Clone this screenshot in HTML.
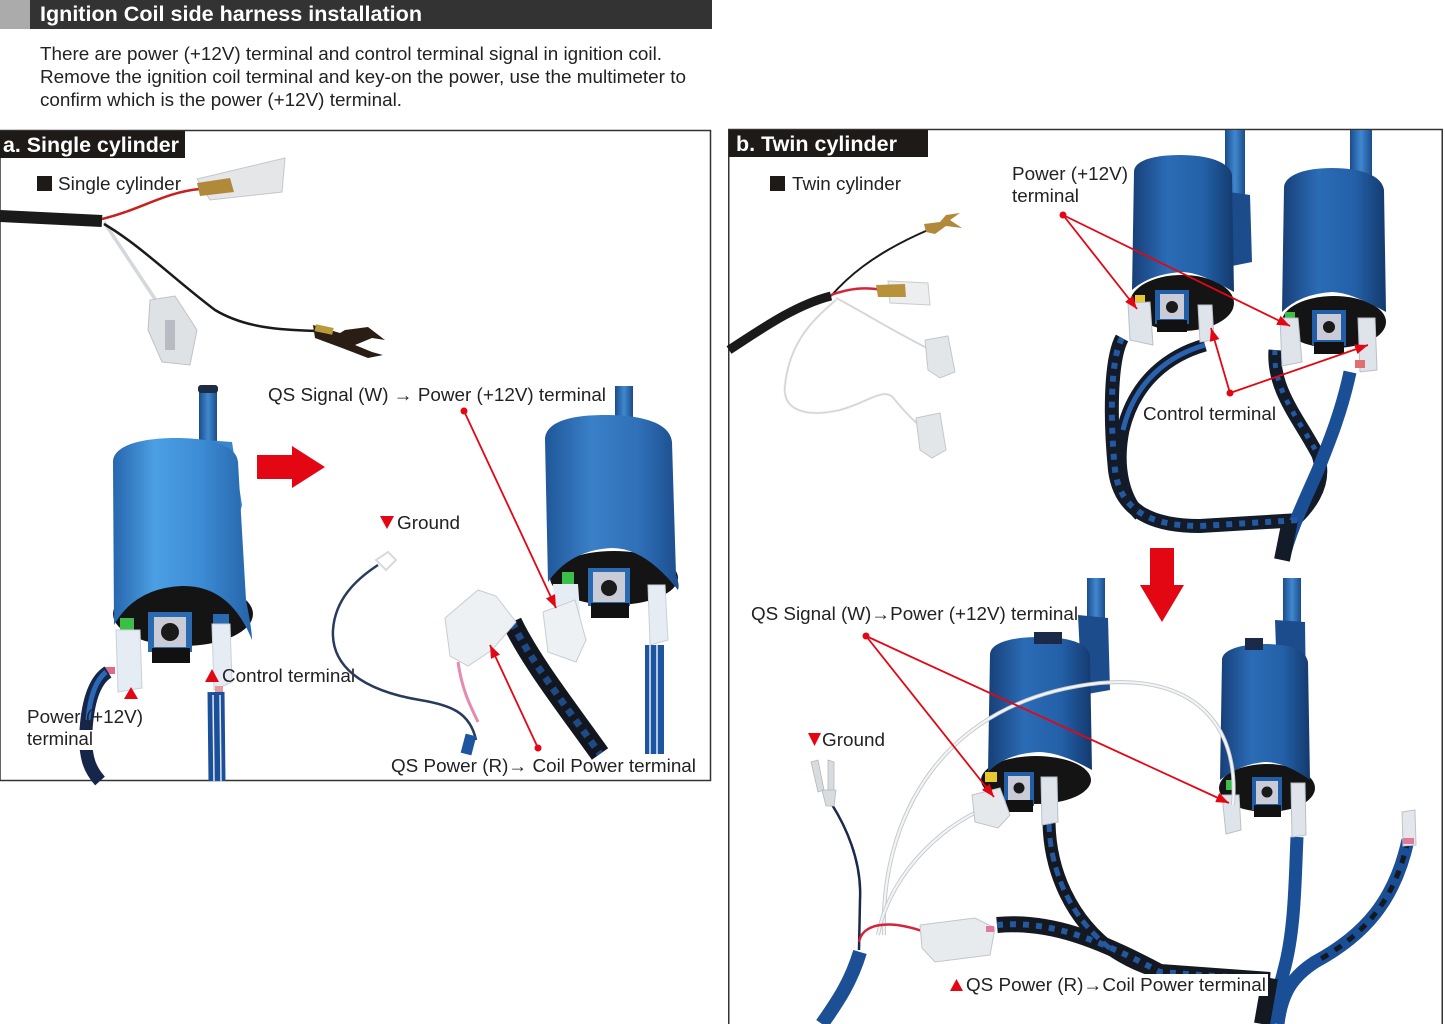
<!DOCTYPE html>
<html><head><meta charset="utf-8"><style>
html,body{margin:0;padding:0;background:#fff;}
svg{display:block;}
text{font-family:"Liberation Sans Narrow","Liberation Sans",Arial,sans-serif;fill:#222;}
.b{font-weight:bold;fill:#fff;}
</style></head><body>
<svg width="1445" height="1024" viewBox="0 0 1445 1024" xmlns="http://www.w3.org/2000/svg">
<defs>
<linearGradient id="cA" x1="0" y1="0" x2="1" y2="0"><stop offset="0" stop-color="#2766ad"/><stop offset=".3" stop-color="#4c9fe3"/><stop offset=".62" stop-color="#3d8dd6"/><stop offset="1" stop-color="#2563a8"/></linearGradient>
<linearGradient id="cA2" x1="0" y1="0" x2="1" y2="0"><stop offset="0" stop-color="#1f5799"/><stop offset=".35" stop-color="#3a80c8"/><stop offset=".7" stop-color="#2f70b8"/><stop offset="1" stop-color="#1c4c8c"/></linearGradient>
<linearGradient id="cB" x1="0" y1="0" x2="1" y2="0"><stop offset="0" stop-color="#173f78"/><stop offset=".35" stop-color="#2b6cb6"/><stop offset=".7" stop-color="#2360a8"/><stop offset="1" stop-color="#143a6e"/></linearGradient>
<linearGradient id="tb" x1="0" y1="0" x2="1" y2="0"><stop offset="0" stop-color="#1b4c8c"/><stop offset=".5" stop-color="#4088cf"/><stop offset="1" stop-color="#1b4c8c"/></linearGradient>
<marker id="ah" markerWidth="13" markerHeight="10" refX="13" refY="5" orient="auto" markerUnits="userSpaceOnUse"><path d="M0,0 L13,5 L0,10 Z" fill="#e30613"/></marker>
</defs>

<!-- HEADER -->
<rect x="0" y="0" width="30" height="29" fill="#ababab"/>
<rect x="30" y="0" width="682" height="29" fill="#333333"/>
<text class="b" x="40" y="21" font-size="21" textLength="382" lengthAdjust="spacingAndGlyphs">Ignition Coil side harness installation</text>
<text x="40" y="60" font-size="18" textLength="622" lengthAdjust="spacingAndGlyphs">There are power (+12V) terminal and control terminal signal in ignition coil.</text>
<text x="40" y="83" font-size="18" textLength="646" lengthAdjust="spacingAndGlyphs">Remove the ignition coil terminal and key-on the power, use the multimeter to</text>
<text x="40" y="106" font-size="18" textLength="362" lengthAdjust="spacingAndGlyphs">confirm which is the power (+12V) terminal.</text>

<!-- PANEL A -->
<rect x="0" y="130.5" width="710.5" height="650" fill="none" stroke="#333" stroke-width="1.5"/>
<rect x="0" y="131" width="185" height="27" fill="#1e1a18"/>
<text class="b" x="3" y="152" font-size="21" textLength="176" lengthAdjust="spacingAndGlyphs">a. Single cylinder</text>
<rect x="37" y="176" width="15" height="15" fill="#1e1a18"/>
<text x="58" y="190" font-size="18" textLength="123" lengthAdjust="spacingAndGlyphs">Single cylinder</text>

<!-- single harness top -->
<path d="M0,216 L102,221" stroke="#1a1a1a" stroke-width="12" fill="none"/>
<path d="M102,219 C140,210 165,192 200,189" stroke="#c82020" stroke-width="2.5" fill="none"/>
<path d="M197,179 L285,158 L282,192 L210,200 Z" fill="#e4e6e8" stroke="#c4c7cb"/>
<path d="M197,183 L230,178 L234,192 L200,196 Z" fill="#b08a3a"/>
<path d="M104,222 L157,302" stroke="#d4d8dc" stroke-width="3.5" fill="none"/>
<path d="M150,300 L175,296 L197,330 L190,365 L162,362 L148,330 Z" fill="#dfe2e5" stroke="#bfc3c8"/>
<rect x="165" y="320" width="10" height="30" fill="#b8bcc2"/>
<path d="M104,224 C140,245 175,280 215,310 C245,328 280,330 318,331" stroke="#1a1a1a" stroke-width="2.5" fill="none"/>
<path d="M313,325 L340,333 L345,330 L368,327 L385,340 L372,338 L355,345 L372,352 L383,355 L368,358 L342,348 L315,338 Z" fill="#2a1e14"/>
<rect x="315" y="326" width="18" height="7" fill="#b89a3a" transform="rotate(12 324 330)"/>

<!-- left coil -->
<rect x="199" y="388" width="18" height="70" fill="url(#tb)"/>
<rect x="198" y="385" width="20" height="8" rx="3" fill="#1c2c42"/>
<path d="M204,440 L232,442 L242,505 L238,520 L210,512 Z" fill="#3a86cc"/>
<ellipse cx="183" cy="614" rx="70" ry="32" fill="#141414"/>
<path d="M113,462 C113,446 140,438 176,438 C212,438 237,446 238,462 L246,600 Q252,630 252,640 Q230,585 182,586 Q135,588 114,625 Z" fill="url(#cA)"/>
<rect x="148" y="612" width="44" height="40" fill="#2a6ab0"/>
<rect x="154" y="617" width="32" height="30" fill="#c9ccd6"/>
<circle cx="170" cy="632" r="9" fill="#1a1a1a"/>
<rect x="152" y="648" width="38" height="15" fill="#111"/>
<rect x="120" y="618" width="14" height="12" fill="#3bbf4a"/>
<path d="M116,630 L140,630 L142,688 L118,692 Z" fill="#e6ecf3" stroke="#c8d0da"/>
<rect x="103" y="667" width="12" height="7" fill="#e06a8a"/>
<rect x="213" y="614" width="16" height="10" fill="#2a6ab0"/>
<path d="M212,624 L230,624 L232,682 L214,690 Z" fill="#e6ecf3" stroke="#c8d0da"/>
<rect x="215" y="686" width="8" height="6" fill="#e89a9a"/>
<path d="M216,692 L217,781" stroke="#1c4f9a" stroke-width="17" fill="none"/>
<path d="M213,695 L214,781 M220,695 L221,781" stroke="#dfe8f4" stroke-width="1.5" fill="none"/>
<path d="M108,672 C95,680 88,700 86,730 C84,760 92,772 100,781" stroke="#16264a" stroke-width="13" fill="none"/>
<path d="M106,672 C96,680 90,696 88,720" stroke="#2a68b8" stroke-width="5" fill="none"/>
<path d="M124,699 L131,687 L138,699 Z" fill="#e30613"/>
<path d="M205,682 L212,669 L219,682 Z" fill="#e30613"/>
<text x="222" y="682" font-size="18" textLength="133" lengthAdjust="spacingAndGlyphs">Control terminal</text>
<rect x="25" y="730" width="72" height="20" fill="#fff"/>
<text x="27" y="723" font-size="18" textLength="116" lengthAdjust="spacingAndGlyphs">Power (+12V)</text>
<text x="27" y="745" font-size="18" textLength="66" lengthAdjust="spacingAndGlyphs">terminal</text>

<!-- red right arrow -->
<path d="M257,455 L292,455 L292,446 L325,467 L292,488 L292,479 L257,479 Z" fill="#e30613"/>

<!-- right coil panel a -->
<rect x="615" y="386" width="18" height="80" fill="url(#tb)"/>
<path d="M622,425 L648,428 L655,495 L640,505 L625,490 Z" fill="#2f70b8"/>
<ellipse cx="614" cy="578" rx="64" ry="27" fill="#141414"/>
<path d="M545,440 C545,422 570,415 605,415 C640,415 670,422 672,442 L676,575 Q680,585 678,590 Q645,548 612,548 Q570,550 548,582 Z" fill="url(#cA2)"/>
<rect x="588" y="568" width="42" height="38" fill="#2a6ab0"/>
<rect x="593" y="572" width="32" height="30" fill="#c9ccd6"/>
<circle cx="609" cy="588" r="8" fill="#1a1a1a"/>
<rect x="591" y="603" width="38" height="15" fill="#111"/>
<rect x="562" y="572" width="12" height="12" fill="#3bbf4a"/>
<path d="M553,584 L578,584 L582,640 L556,642 Z" fill="#e6ecf3"/>
<path d="M543,612 L575,600 L586,640 L576,662 L548,652 Z" fill="#eef1f4" stroke="#c8cdd3"/>
<path d="M648,585 L665,585 L668,640 L650,645 Z" fill="#e6ecf3" stroke="#c8d0da"/>
<rect x="645" y="645" width="19" height="109" fill="#1d55a0"/>
<path d="M650,645 L650,754 M657,645 L657,754" stroke="#e8eef8" stroke-width="1.5"/>
<path d="M512,622 C530,660 565,705 600,754" stroke="#12161f" stroke-width="20" fill="none"/>
<path d="M512,622 C530,660 565,705 600,754" stroke="#2458a0" stroke-width="7" stroke-dasharray="7 6" fill="none" opacity=".8"/>
<path d="M445,618 L478,590 L496,596 L516,622 L492,650 L468,666 L450,656 Z" fill="#eef1f4" stroke="#c8ccd2"/>
<path d="M458,662 C462,690 470,705 478,722" stroke="#e58ab0" stroke-width="3" fill="none"/>
<path d="M378,565 C355,580 335,600 333,630 C331,665 360,690 420,700 C450,705 470,712 476,740" stroke="#2a3a5c" stroke-width="2.5" fill="none"/>
<path d="M376,560 L388,552 L396,560 L386,570 Z" fill="none" stroke="#d6d9dd" stroke-width="2"/>
<path d="M471,735 L466,754" stroke="#1d55a0" stroke-width="11" fill="none"/>

<!-- labels panel a right -->
<text x="268" y="401" font-size="18" textLength="338" lengthAdjust="spacingAndGlyphs">QS Signal (W) → Power (+12V) terminal</text>
<circle cx="464" cy="411" r="3.5" fill="#e30613"/>
<line x1="464" y1="411" x2="556" y2="608" stroke="#e30613" stroke-width="1.8" marker-end="url(#ah)"/>
<path d="M380,516 L394,516 L387,529 Z" fill="#e30613"/>
<text x="397" y="529" font-size="18" textLength="63" lengthAdjust="spacingAndGlyphs">Ground</text>
<circle cx="538" cy="748" r="3.5" fill="#e30613"/>
<line x1="538" y1="748" x2="490" y2="645" stroke="#e30613" stroke-width="1.8" marker-end="url(#ah)"/>
<text x="391" y="772" font-size="18" textLength="305" lengthAdjust="spacingAndGlyphs">QS Power (R)→ Coil Power terminal</text>

<!-- PANEL B -->
<rect x="728.75" y="129.5" width="713.5" height="900" fill="none" stroke="#333" stroke-width="1.5"/>
<rect x="729" y="130" width="199" height="27" fill="#1e1a18"/>
<text class="b" x="736" y="151" font-size="21" textLength="161" lengthAdjust="spacingAndGlyphs">b. Twin cylinder</text>
<rect x="770" y="176" width="15" height="15" fill="#1e1a18"/>
<text x="792" y="190" font-size="18" textLength="109" lengthAdjust="spacingAndGlyphs">Twin cylinder</text>

<!-- twin harness -->
<path d="M729,350 C760,330 795,305 831,296" stroke="#1a1a1a" stroke-width="9" fill="none"/>
<path d="M831,296 C845,280 870,255 928,230" stroke="#1a1a1a" stroke-width="2" fill="none"/>
<path d="M924,224 L940,222 L946,215 L960,213 L950,220 L962,228 L946,226 L935,234 L926,232 Z" fill="#b08a3a"/>
<path d="M831,295 C850,288 865,287 882,290" stroke="#d4243a" stroke-width="2.5" fill="none"/>
<path d="M888,281 L928,283 L930,305 L890,303 Z" fill="#eceeef" stroke="#c9ccd0"/>
<path d="M876,285 L905,284 L906,297 L878,297 Z" fill="#b8923a"/>
<path d="M836,298 C860,310 890,330 937,353" stroke="#e8eaed" stroke-width="2.5" fill="none"/>
<path d="M836,298 C860,310 890,330 937,353" stroke="#c6c9ce" stroke-width="0.8" fill="none"/>
<path d="M925,340 L948,336 L955,372 L940,378 L928,370 Z" fill="#e3e6e9" stroke="#c3c7cc"/>
<path d="M836,300 C815,318 790,340 785,385 C782,410 805,418 840,410 C870,402 885,385 895,400 C905,412 914,422 923,428" stroke="#e8eaed" stroke-width="2.5" fill="none"/>
<path d="M836,300 C815,318 790,340 785,385 C782,410 805,418 840,410 C870,402 885,385 895,400 C905,412 914,422 923,428" stroke="#c6c9ce" stroke-width="0.8" fill="none"/>
<path d="M916,418 L940,413 L946,450 L932,458 L920,450 Z" fill="#e3e6e9" stroke="#c3c7cc"/>

<!-- twin top coils -->
<path d="M1122,338 C1110,360 1110,420 1115,470 C1120,510 1150,526 1200,526 L1300,520" stroke="#131a28" stroke-width="14" fill="none"/>
<path d="M1205,345 C1170,355 1135,380 1123,430 C1115,470 1125,500 1140,515" stroke="#131a28" stroke-width="13" fill="none"/>
<path d="M1275,350 C1272,390 1300,420 1318,455 C1330,490 1300,515 1290,525" stroke="#131a28" stroke-width="13" fill="none"/>
<path d="M1350,372 C1342,410 1330,440 1318,470 C1305,500 1290,530 1283,560" stroke="#1a4e95" stroke-width="13" fill="none"/>
<path d="M1290,520 L1282,560" stroke="#131a28" stroke-width="16" fill="none"/>
<path d="M1122,338 C1110,360 1110,420 1115,470 C1120,510 1150,526 1200,526 L1300,520" stroke="#2458a0" stroke-width="6" stroke-dasharray="6 7" fill="none"/>
<path d="M1205,345 C1170,355 1135,380 1123,430" stroke="#2a62b0" stroke-width="5" fill="none"/>
<path d="M1275,350 C1272,390 1300,420 1318,455" stroke="#2458a0" stroke-width="5" stroke-dasharray="5 8" fill="none"/>

<rect x="1225" y="130" width="20" height="100" fill="url(#tb)"/>
<path d="M1215,190 L1250,195 L1252,262 L1222,268 Z" fill="#1d4c8c"/>
<ellipse cx="1182" cy="303" rx="52" ry="28" fill="#141414"/>
<path d="M1134,172 C1134,160 1155,155 1180,155 C1208,155 1230,162 1232,175 L1234,292 Q1200,272 1182,272 Q1150,274 1132,290 Z" fill="url(#cB)"/>
<rect x="1155" y="290" width="34" height="34" fill="#225ea8"/>
<rect x="1160" y="294" width="24" height="25" fill="#c9ccd6"/>
<circle cx="1172" cy="307" r="6" fill="#1a1a1a"/>
<rect x="1157" y="320" width="30" height="12" fill="#111"/>
<rect x="1135" y="295" width="10" height="8" fill="#e8c830"/>
<path d="M1128,303 L1150,302 L1153,345 L1130,340 Z" fill="#dfe4ea" stroke="#b8c0ca"/>
<path d="M1198,305 L1212,305 L1214,340 L1200,342 Z" fill="#dfe4ea" stroke="#b8c0ca"/>

<rect x="1350" y="130" width="22" height="100" fill="url(#tb)"/>
<path d="M1344,195 L1376,200 L1378,255 L1350,262 Z" fill="#1d4c8c"/>
<ellipse cx="1334" cy="322" rx="52" ry="26" fill="#141414"/>
<path d="M1284,188 C1284,175 1305,168 1332,168 C1360,168 1382,175 1384,190 L1386,312 Q1350,292 1332,292 Q1300,294 1282,312 Z" fill="url(#cB)"/>
<rect x="1312" y="310" width="34" height="36" fill="#225ea8"/>
<rect x="1317" y="314" width="24" height="26" fill="#c9ccd6"/>
<circle cx="1329" cy="327" r="6" fill="#1a1a1a"/>
<rect x="1314" y="342" width="30" height="12" fill="#111"/>
<rect x="1285" y="312" width="10" height="8" fill="#3bbf4a"/>
<path d="M1280,318 L1298,318 L1302,362 L1282,366 Z" fill="#dfe4ea" stroke="#b8c0ca"/>
<path d="M1358,318 L1375,318 L1377,370 L1360,372 Z" fill="#dfe4ea" stroke="#b8c0ca"/>
<rect x="1355" y="360" width="10" height="8" fill="#e07070"/>

<!-- labels twin top -->
<text x="1012" y="180" font-size="18" textLength="116" lengthAdjust="spacingAndGlyphs">Power (+12V)</text>
<text x="1012" y="202" font-size="18" textLength="67" lengthAdjust="spacingAndGlyphs">terminal</text>
<circle cx="1063" cy="215" r="3.5" fill="#e30613"/>
<line x1="1063" y1="215" x2="1137" y2="309" stroke="#e30613" stroke-width="1.8" marker-end="url(#ah)"/>
<line x1="1063" y1="215" x2="1290" y2="326" stroke="#e30613" stroke-width="1.8" marker-end="url(#ah)"/>
<rect x="1140" y="403" width="138" height="22" fill="#fff" opacity=".85"/>
<text x="1143" y="420" font-size="18" textLength="133" lengthAdjust="spacingAndGlyphs">Control terminal</text>
<circle cx="1230" cy="393" r="3.5" fill="#e30613"/>
<line x1="1230" y1="393" x2="1211" y2="328" stroke="#e30613" stroke-width="1.8" marker-end="url(#ah)"/>
<line x1="1230" y1="393" x2="1368" y2="345" stroke="#e30613" stroke-width="1.8" marker-end="url(#ah)"/>

<!-- red down arrow -->
<path d="M1150,548 L1174,548 L1174,585 L1184,585 L1162,622 L1140,585 L1150,585 Z" fill="#e30613"/>

<!-- twin bottom harness -->
<path d="M997,925 C1050,920 1100,940 1160,972 L1270,980" stroke="#141820" stroke-width="16" fill="none"/>
<path d="M1049,823 C1050,870 1070,920 1115,952 C1140,968 1160,972 1170,975" stroke="#141820" stroke-width="13" fill="none"/>
<path d="M1297,837 C1295,880 1295,930 1284,970 C1278,995 1272,1010 1268,1024" stroke="#1a4e95" stroke-width="13" fill="none"/>
<path d="M1408,840 C1395,900 1365,935 1315,962 C1295,975 1282,990 1278,1024" stroke="#1a4e95" stroke-width="13" fill="none"/>
<path d="M1270,978 L1262,1024" stroke="#141820" stroke-width="16" fill="none"/>
<path d="M997,925 C1050,920 1100,940 1160,972 L1270,980" stroke="#2458a0" stroke-width="6" stroke-dasharray="6 7" fill="none"/>
<path d="M1049,823 C1050,870 1070,920 1115,952" stroke="#2458a0" stroke-width="5" stroke-dasharray="9 6" fill="none"/>
<path d="M1408,840 C1395,900 1365,935 1315,962" stroke="#141820" stroke-width="5" stroke-dasharray="8 8" fill="none"/>
<path d="M1402,812 L1415,810 L1416,845 L1403,846 Z" fill="#e3e6ea" stroke="#bcc3cb"/>
<rect x="1403" y="838" width="11" height="6" fill="#e07a9a"/>

<!-- twin bottom coils -->
<rect x="1087" y="578" width="18" height="95" fill="url(#tb)"/>
<path d="M1078,615 L1108,618 L1110,690 L1082,695 Z" fill="#1d4c8c"/>
<ellipse cx="1036" cy="780" rx="55" ry="24" fill="#141414"/>
<path d="M990,655 C990,643 1010,637 1040,637 C1068,637 1088,643 1090,655 L1092,770 Q1060,752 1038,752 Q1005,754 988,772 Z" fill="url(#cB)"/>
<rect x="1034" y="632" width="28" height="12" fill="#1a2a48"/>
<rect x="1004" y="772" width="30" height="34" fill="#225ea8"/>
<rect x="1008" y="776" width="22" height="24" fill="#c9ccd6"/>
<circle cx="1019" cy="788" r="5.5" fill="#1a1a1a"/>
<rect x="1006" y="800" width="27" height="12" fill="#111"/>
<rect x="985" y="772" width="12" height="10" fill="#e8c830"/>
<path d="M1041,777 L1057,777 L1058,822 L1042,825 Z" fill="#dfe4ea" stroke="#b8c0ca"/>

<rect x="1283" y="578" width="18" height="90" fill="url(#tb)"/>
<path d="M1275,620 L1305,622 L1306,700 L1278,702 Z" fill="#1d4c8c"/>
<ellipse cx="1267" cy="788" rx="48" ry="24" fill="#141414"/>
<path d="M1222,660 C1222,650 1240,644 1265,644 C1290,644 1306,650 1308,662 L1310,780 Q1285,762 1265,762 Q1240,764 1220,780 Z" fill="url(#cB)"/>
<rect x="1245" y="638" width="18" height="12" fill="#1a2a48"/>
<rect x="1252" y="777" width="30" height="33" fill="#225ea8"/>
<rect x="1256" y="781" width="22" height="23" fill="#c9ccd6"/>
<circle cx="1267" cy="792" r="5.5" fill="#1a1a1a"/>
<rect x="1254" y="805" width="27" height="12" fill="#111"/>
<rect x="1226" y="780" width="9" height="10" fill="#3bbf4a"/>
<path d="M1222,795 L1239,795 L1241,830 L1226,834 Z" fill="#dfe4ea" stroke="#b8c0ca"/>
<path d="M1291,783 L1305,783 L1306,835 L1292,837 Z" fill="#dfe4ea" stroke="#b8c0ca"/>

<!-- white wires bottom -->
<path d="M884,935 C880,820 940,700 1100,683 C1190,675 1240,720 1233,805" stroke="#c3c7cc" stroke-width="4" fill="none"/>
<path d="M884,935 C880,820 940,700 1100,683 C1190,675 1240,720 1233,805" stroke="#f2f4f6" stroke-width="2.2" fill="none"/>
<path d="M878,935 C890,870 950,818 995,805" stroke="#c3c7cc" stroke-width="4" fill="none"/>
<path d="M878,935 C890,870 950,818 995,805" stroke="#f2f4f6" stroke-width="2.2" fill="none"/>
<path d="M972,795 L1000,788 L1010,815 L998,828 L975,822 Z" fill="#e6e9ec" stroke="#bfc4ca"/>

<!-- ground & QS power -->
<path d="M831,803 C845,825 862,860 860,900 L859,950" stroke="#1a2a4a" stroke-width="2.5" fill="none"/>
<path d="M822,790 L836,790 L834,806 L826,806 Z M811,762 L818,760 L824,790 L818,792 Z M828,760 L834,762 L834,790 L828,790 Z" fill="#d9dcdf" stroke="#b3b7bc" stroke-width=".8"/>
<path d="M860,952 C850,985 835,1005 822,1024" stroke="#1d4f95" stroke-width="14" fill="none"/>
<path d="M859,942 C862,925 885,918 925,932" stroke="#d4243a" stroke-width="2.5" fill="none"/>
<path d="M920,925 L975,918 L995,928 L990,955 L935,962 L922,948 Z" fill="#e8ebee" stroke="#c2c7cc"/>
<rect x="986" y="926" width="8" height="6" fill="#e07a9a"/>

<!-- labels twin bottom -->
<text x="751" y="620" font-size="18" textLength="327" lengthAdjust="spacingAndGlyphs">QS Signal (W)→Power (+12V) terminal</text>
<circle cx="866" cy="636" r="3.5" fill="#e30613"/>
<line x1="866" y1="636" x2="994" y2="797" stroke="#e30613" stroke-width="1.8" marker-end="url(#ah)"/>
<line x1="866" y1="636" x2="1229" y2="803" stroke="#e30613" stroke-width="1.8" marker-end="url(#ah)"/>
<path d="M808,733 L821,733 L814.5,746 Z" fill="#e30613"/>
<text x="822" y="746" font-size="18" textLength="63" lengthAdjust="spacingAndGlyphs">Ground</text>
<rect x="948" y="974" width="320" height="22" fill="#fff"/>
<path d="M950,991 L956.5,979 L963,991 Z" fill="#e30613"/>
<text x="966" y="991" font-size="18" textLength="300" lengthAdjust="spacingAndGlyphs">QS Power (R)→Coil Power terminal</text>
</svg>
</body></html>
